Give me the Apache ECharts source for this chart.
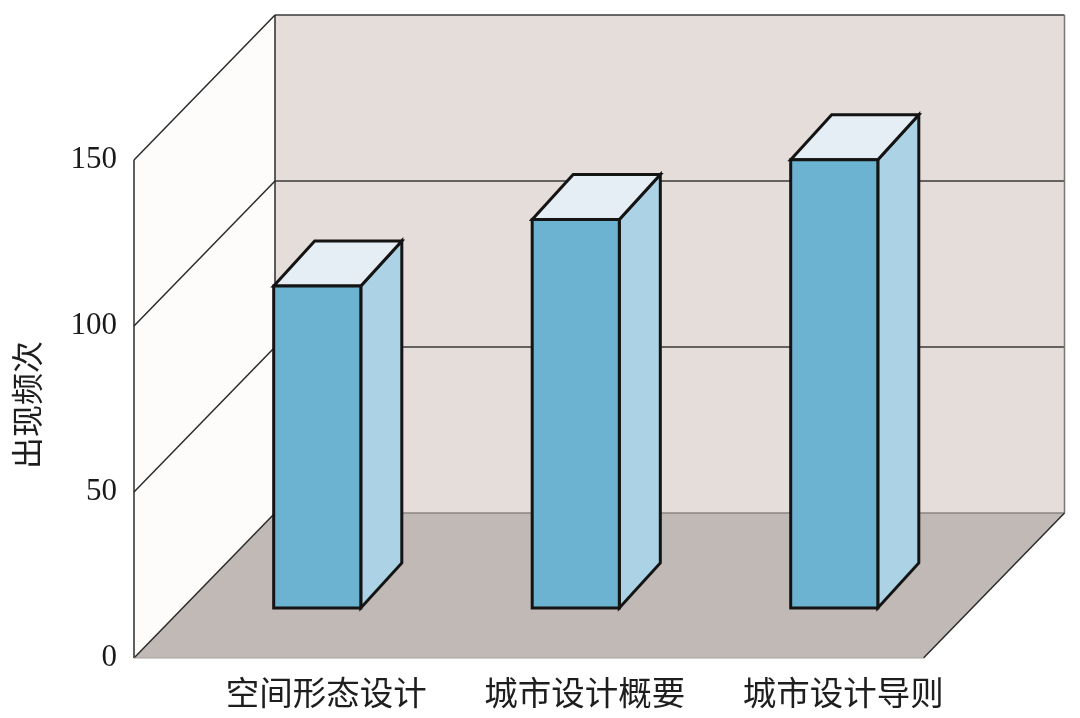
<!DOCTYPE html>
<html>
<head>
<meta charset="utf-8">
<script src="https://cdn.jsdelivr.net/npm/echarts@6/dist/echarts.min.js"></script>
<style>
html,body{margin:0;padding:0;background:#fff;}
#chart{width:1080px;height:718px;}
</style>
</head>
<body>
<div id="chart"></div>
<script>
// ---- data ----
var categories = ['空间形态设计', '城市设计概要', '城市设计导则'];
var frequencies = [97, 117, 135];
var yTicks = [0, 50, 100, 150];
var yName = '出现频次';

// ---- 3D projection constants (pixels) ----
var DEPTH_X = 141, DEPTH_Y = 145;     // full floor depth
var FLOOR_PAD_L = 6, FLOOR_PAD_R = 8; // floor extends slightly beyond category bands
var BAR_FX = 48, BAR_FY = 50;         // bar front-face depth
var BAR_DX = 41, BAR_DY = 45;         // bar depth
var BAR_RATIO = 0.337;

var chart = echarts.init(document.getElementById('chart'), null, {renderer: 'canvas'});

function renderFrame(params, api) {
  var cs = params.coordSys;
  var x0 = cs.x - FLOOR_PAD_L, x1 = cs.x + cs.width + FLOOR_PAD_R;
  var yMin = api.coord([0, yTicks[0]])[1];
  var yMax = api.coord([0, yTicks[yTicks.length - 1]])[1];
  var children = [];
  // left wall
  children.push({type: 'polygon', shape: {points: [[x0, yMin], [x0, yMax], [x0 + DEPTH_X, yMax - DEPTH_Y], [x0 + DEPTH_X, yMin - DEPTH_Y]]},
    style: {fill: '#fdfcfb'}});
  // back wall
  children.push({type: 'polygon', shape: {points: [[x0 + DEPTH_X, yMax - DEPTH_Y], [x1 + DEPTH_X, yMax - DEPTH_Y], [x1 + DEPTH_X, yMin - DEPTH_Y], [x0 + DEPTH_X, yMin - DEPTH_Y]]},
    style: {fill: '#e4ddd9'}});
  // floor
  children.push({type: 'polygon', shape: {points: [[x0, yMin], [x1, yMin], [x1 + DEPTH_X, yMin - DEPTH_Y], [x0 + DEPTH_X, yMin - DEPTH_Y]]},
    style: {fill: '#c0b9b6'}});
  // gridlines
  yTicks.forEach(function (t, i) {
    var y = api.coord([0, t])[1];
    children.push({type: 'polyline', shape: {points: [[x0, y], [x0 + DEPTH_X, y - DEPTH_Y]]},
      style: {stroke: '#2b2b2b', lineWidth: 1.5, fill: null}});
    children.push({type: 'polyline', shape: {points: [[x0 + DEPTH_X, y - DEPTH_Y], [x1 + DEPTH_X, y - DEPTH_Y]]},
      style: {stroke: i === 0 ? '#8a8482' : '#3a3a3a', lineWidth: 1.5, fill: null}});
  });
  // front vertical (axis) line
  children.push({type: 'line', shape: {x1: x0, y1: yMax, x2: x0, y2: yMin},
    style: {stroke: '#2b2b2b', lineWidth: 1.5}});
  // back wall verticals
  children.push({type: 'line', shape: {x1: x0 + DEPTH_X, y1: yMax - DEPTH_Y, x2: x0 + DEPTH_X, y2: yMin - DEPTH_Y},
    style: {stroke: '#2b2b2b', lineWidth: 1.5}});
  children.push({type: 'line', shape: {x1: x1 + DEPTH_X, y1: yMax - DEPTH_Y, x2: x1 + DEPTH_X, y2: yMin - DEPTH_Y},
    style: {stroke: '#7a7675', lineWidth: 1.5}});
  // floor right edge
  children.push({type: 'line', shape: {x1: x1, y1: yMin, x2: x1 + DEPTH_X, y2: yMin - DEPTH_Y},
    style: {stroke: '#2b2b2b', lineWidth: 1.5}});
  // floor front edge
  children.push({type: 'line', shape: {x1: x0, y1: yMin, x2: x1, y2: yMin},
    style: {stroke: '#a8a3a1', lineWidth: 1}});
  return {type: 'group', children: children};
}

function renderBar(params, api) {
  var idx = api.value(0);
  var base = api.coord([idx, 0]);
  var top = api.coord([idx, api.value(1)]);
  var band = api.size([1, 0])[0];
  var w = band * BAR_RATIO;
  var L = base[0] + BAR_FX - w / 2, R = L + w;
  var B = base[1] - BAR_FY, T = top[1] - BAR_FY;
  var stroke = {stroke: '#141414', lineWidth: 3, lineJoin: 'miter'};
  return {type: 'group', children: [
    {type: 'polygon', shape: {points: [[R, B], [R, T], [R + BAR_DX, T - BAR_DY], [R + BAR_DX, B - BAR_DY]]},
      style: Object.assign({fill: '#abd3e5'}, stroke)},
    {type: 'polygon', shape: {points: [[L, T], [R, T], [R + BAR_DX, T - BAR_DY], [L + BAR_DX, T - BAR_DY]]},
      style: Object.assign({fill: '#e6eef5'}, stroke)},
    {type: 'polygon', shape: {points: [[L, B], [L, T], [R, T], [R, B]]},
      style: Object.assign({fill: '#6cb3d1'}, stroke)}
  ]};
}

var option = {
  backgroundColor: '#ffffff',
  animation: false,
  grid: {left: 140, right: 164.5, top: 160, bottom: 60, containLabel: false},
  xAxis: {
    type: 'category',
    data: categories,
    boundaryGap: true,
    axisLine: {show: false},
    axisTick: {show: false},
    splitLine: {show: false},
    axisLabel: {
      margin: 18,
      interval: 0,
      formatter: function (v) { return '{a|' + v + '}'; },
      rich: {a: {padding: [0, 0, 0, 114], fontSize: 33.5, fontFamily: '"Noto Sans CJK SC", sans-serif', color: '#1e1e1e'}}
    }
  },
  yAxis: {
    type: 'value',
    min: 0, max: 150, interval: 50,
    name: yName,
    nameLocation: 'middle',
    nameRotate: 90,
    nameGap: 97,
    nameTextStyle: {fontSize: 32, fontFamily: '"Noto Sans CJK SC", sans-serif', color: '#1e1e1e', padding: [0, 0, 0, 8]},
    axisLine: {show: false},
    axisTick: {show: false},
    splitLine: {show: false},
    axisLabel: {margin: 23, fontSize: 31, fontFamily: '"Liberation Serif", serif', color: '#1a1a1a'}
  },
  series: [
    {type: 'custom', renderItem: renderFrame, data: [[0, 0]], z: 1, silent: true},
    {type: 'custom', renderItem: renderBar, data: frequencies.map(function (v, i) { return [i, v]; }), z: 3, silent: true}
  ]
};
chart.setOption(option);
</script>
</body>
</html>
